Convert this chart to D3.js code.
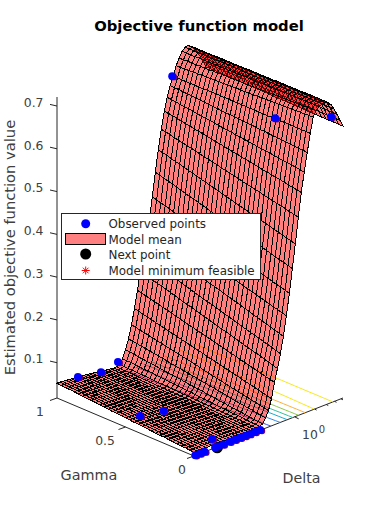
<!DOCTYPE html>
<html><head><meta charset="utf-8">
<script src="https://cdn.jsdelivr.net/npm/d3@7"></script>
<style>html,body{margin:0;padding:0;background:#fff}svg{display:block}text{font-family:"DejaVu Sans",sans-serif}</style>
</head><body><div id="c"></div>
<script>
const gammaGrid=[1,.969,.938,.906,.875,.844,.813,.781,.75,.719,.688,.656,.625,.594,.563,.531,.5,.469,.438,.406,.375,.344,.313,.281,.25,.219,.188,.156,.125,.094,.063,.031,0];
const deltaExp=[-1.52,-1.475,-1.43,-1.385,-1.34,-1.295,-1.25,-1.205,-1.16,-1.115,-1.07,-1.025,-.98,-.935,-.89,-.845,-.8,-.755,-.71,-.665,-.62,-.575,-.53,-.485,-.44,-.395,-.35,-.305,-.26,-.215,-.17,-.125,-.08,-.035,.01,.055,.1,.145,.19,.235,.28,.325,.37,.415,.46,.505,.55,.595,.64,.685,.73];
// model mean x 1000: one line per delta, values from gamma=1 to gamma=0
const modelMean=[
[52,51,50,50,49,48,47,46,46,45,44,43,42,41,41,40,39,38,37,37,36,35,34,33,32,32,31,30,29,28,28,27,26],
[52,51,50,50,49,48,47,46,46,45,44,43,42,41,41,40,39,38,37,37,36,35,34,33,32,32,31,30,29,28,28,27,26],
[51,50,49,49,48,47,46,46,45,44,43,42,42,41,40,39,38,38,37,36,35,35,34,33,32,31,31,30,29,28,27,27,26],
[51,50,49,49,48,47,46,46,45,44,43,42,42,41,40,39,38,38,37,36,35,35,34,33,32,31,31,30,29,28,27,27,26],
[50,49,49,48,47,46,46,45,44,43,43,42,41,40,40,39,38,37,37,36,35,34,34,33,32,31,31,30,29,28,28,27,26],
[49,48,48,47,46,45,45,44,43,43,42,41,40,40,39,38,38,37,36,35,35,34,33,32,32,31,30,30,29,28,27,27,26],
[49,48,48,47,46,45,45,44,43,43,42,41,40,40,39,38,38,37,36,35,35,34,33,32,32,31,30,30,29,28,27,27,26],
[48,47,47,46,45,45,44,43,43,42,41,40,40,39,38,38,37,36,36,35,34,34,33,32,32,31,30,29,29,28,27,27,26],
[47,46,46,45,44,44,43,42,42,41,40,40,39,38,38,37,37,36,35,35,34,33,33,32,31,31,30,29,29,28,27,27,26],
[46,45,45,44,44,43,42,42,41,40,40,39,39,38,37,37,36,35,35,34,34,33,32,32,31,30,30,29,29,28,27,27,26],
[45,44,44,43,43,42,41,41,40,40,39,38,38,37,37,36,35,35,34,34,33,33,32,31,31,30,30,29,28,28,27,27,26],
[44,43,43,42,42,41,41,40,40,39,38,38,37,37,36,36,35,34,34,33,33,32,32,31,31,30,29,29,28,28,27,27,26],
[43,42,42,41,41,40,40,39,39,38,38,37,37,36,36,35,35,34,33,33,32,32,31,31,30,30,29,29,28,28,27,27,26],
[42,42,41,41,40,40,39,39,38,38,37,37,36,36,35,35,34,34,33,33,32,32,31,31,30,30,29,29,28,28,27,27,26],
[41,41,40,40,39,39,38,38,38,37,37,36,36,35,35,34,34,34,33,33,32,32,31,31,30,30,29,29,28,28,27,27,26],
[40,40,39,39,38,38,37,37,36,36,36,35,35,34,34,33,33,33,32,32,31,31,31,30,30,29,29,28,28,27,27,26,26],
[39,39,38,38,37,37,37,36,36,35,35,35,34,34,33,33,33,32,32,31,31,31,30,30,29,29,29,28,28,27,27,26,26],
[38,38,37,37,37,36,36,36,35,35,34,34,34,33,33,33,32,32,31,31,31,30,30,30,29,29,28,28,28,27,27,26,26],
[37,37,36,36,36,35,35,35,34,34,34,33,33,33,32,32,32,31,31,31,30,30,30,29,29,29,28,28,28,27,27,26,26],
[36,36,35,35,35,34,34,34,34,33,33,33,32,32,32,31,31,31,30,30,30,29,29,29,28,28,28,28,27,27,27,26,26],
[36,36,35,35,35,34,34,34,34,33,33,33,32,32,32,31,31,31,30,30,30,29,29,29,28,28,28,28,27,27,27,26,26],
[39,39,38,38,37,37,37,36,36,35,35,35,34,34,33,33,33,32,32,31,31,31,30,30,29,29,29,28,28,27,27,26,26],
[50,49,49,48,47,46,46,45,44,44,43,42,41,41,40,39,39,38,37,36,36,35,34,33,33,32,31,31,30,29,28,28,27],
[68,67,66,64,63,62,61,60,58,57,56,55,54,53,51,50,49,48,47,45,44,43,42,41,39,38,37,36,35,34,32,31,30],
[91,89,88,86,85,83,82,80,79,77,75,74,72,71,69,68,66,64,63,61,60,58,57,55,53,52,50,49,47,46,44,43,41],
[121,119,117,115,113,111,109,107,105,103,101,99,97,95,93,91,89,86,84,82,80,78,76,74,72,70,68,66,64,62,60,58,56],
[156,154,151,149,147,144,142,140,137,135,133,130,128,126,123,121,119,116,114,112,109,107,105,102,100,98,95,93,91,88,86,84,81],
[196,194,191,189,186,184,181,179,176,174,171,169,166,164,161,159,156,154,151,149,146,144,141,139,136,134,131,129,126,124,121,119,116],
[238,235,232,229,226,224,221,218,215,212,209,206,204,201,198,195,192,189,186,183,181,178,175,172,169,166,163,161,158,155,152,149,146],
[271,268,265,262,259,256,254,251,248,245,242,239,236,233,230,227,225,222,219,216,213,210,207,204,201,198,196,193,190,187,184,181,178],
[311,308,305,302,299,296,293,290,287,284,281,278,275,272,269,266,264,261,258,255,252,249,246,243,240,237,234,231,228,225,222,219,216],
[351,348,345,343,340,337,334,331,328,326,323,320,317,314,312,309,306,303,300,298,295,292,289,286,283,281,278,275,272,269,267,264,261],
[401,398,395,393,390,387,384,381,378,376,373,370,367,364,362,359,356,353,350,348,345,342,339,336,333,331,328,325,322,319,317,314,311],
[456,453,450,448,445,442,439,436,433,431,428,425,422,419,417,414,411,408,405,403,400,397,394,391,388,386,383,380,377,374,372,369,366],
[506,503,501,498,495,493,490,487,485,482,479,477,474,471,469,466,463,461,458,455,453,450,447,445,442,440,437,434,432,429,426,424,421],
[551,549,547,544,542,540,538,536,534,531,529,527,525,523,520,518,516,514,512,509,507,505,503,501,498,496,494,492,490,488,485,483,481],
[591,589,588,586,584,582,581,579,577,576,574,572,570,569,567,565,563,562,560,558,557,555,553,551,550,548,546,545,543,541,539,538,536],
[620,619,618,616,615,614,613,611,610,609,608,607,605,604,603,602,600,599,598,597,596,594,593,592,591,590,588,587,586,585,584,582,581],
[645,644,644,643,642,642,641,640,640,639,638,638,637,636,636,635,635,634,633,633,632,631,631,630,629,629,628,627,627,626,625,625,624],
[664,664,664,664,664,664,664,664,665,665,665,665,665,665,665,665,665,665,665,665,665,665,665,665,665,666,666,666,666,666,666,666,666],
[686,686,687,687,688,688,689,689,690,690,691,691,692,692,693,693,693,694,694,695,695,696,696,697,697,698,698,699,699,700,700,701,701],
[701,701,702,702,702,703,703,703,704,704,705,705,705,706,706,706,707,707,708,708,708,709,709,710,710,710,711,711,712,712,713,713,714],
[714,714,714,714,715,715,715,715,715,716,716,716,716,716,717,717,717,717,717,718,718,718,718,718,719,719,719,719,720,720,720,721,721],
[721,721,721,721,721,721,721,721,722,722,722,722,722,722,722,722,722,722,722,722,723,723,723,723,723,723,723,723,724,724,724,724,724],
[722,722,722,722,722,722,722,722,722,722,722,723,723,723,723,723,723,723,723,723,723,723,724,724,724,724,724,724,724,724,724,724,724],
[718,718,718,718,718,718,719,719,719,719,719,719,719,720,720,720,720,720,720,720,721,721,721,721,721,721,721,722,722,722,722,722,722],
[710,710,710,710,710,710,711,711,711,711,711,711,711,712,712,712,712,712,712,712,713,713,713,713,713,713,713,714,714,714,714,714,714],
[700,700,700,700,700,700,700,700,700,700,700,700,700,700,700,700,701,701,701,701,701,701,701,701,701,701,701,701,701,701,701,701,701],
[686,686,686,686,686,686,686,686,686,686,686,686,686,686,686,686,686,686,686,686,686,686,686,686,686,686,686,686,686,686,686,686,686],
[671,671,671,671,671,671,671,671,671,671,671,670,670,670,670,670,670,670,670,670,670,670,669,669,669,669,669,669,669,669,669,669,669],
[656,656,656,656,656,656,656,656,655,655,655,655,655,655,655,655,654,654,654,654,654,654,654,654,653,653,653,653,653,653,653,653,653]
];
const contourLevels=[.076,.176,.276,.376,.486,.596,.706];
const contourColors=["#3f4fe0","#2f86ea","#18a8d0","#2fbf9a","#8cc84a","#fdb03c","#f8e81c"];
const obsGamma=[0,0,0,0,0,0,0,0,0,0,0,0,0,.05,.476,.44,.963,.945,.985,1,.234,.034];
const obsDeltaExp=[-1.5,-1.43,-1.36,-1.2,-1.16,-1.08,-.98,-.9,-.82,-.75,-.68,-.6,-.52,-1.144,-1.35,-1.07,-1.28,-.97,-.63,.22,.19,.62];
const obsValue=[.018,.018,.018,.018,.018,.018,.018,.018,.018,.018,.018,.018,.018,.028,.036,.036,.057,.052,.05,.665,.672,.677];
const nextPoint=[0,-1.17,.018];
const minPoint=[.04,-1.15,.02];
const zTicks=[.1,.2,.3,.4,.5,.6,.7];
const gammaTicks=[1,.5,0];
const deltaMinor=[2,3,4,5];
const legendItems=["Observed points","Model mean","Next point","Model minimum feasible"];

const W=377,H=512;
const svg=d3.select("#c").append("svg").attr("width",W).attr("height",H);
const gx=d3.scaleLinear().domain([0,1]).range([194,57]);
const gy=d3.scaleLinear().domain([0,1]).range([456,398]);
const deltaDomain=[Math.pow(10,-1.52),Math.pow(10,.73)];
const dx=d3.scaleLog().domain(deltaDomain).range([0,149]);
const dy=d3.scaleLog().domain(deltaDomain).range([0,-58]);
const zs=d3.scaleLinear().domain([.0175,.7211]).range([0,-301]);
const P=(g,d,z)=>[gx(g)+dx(d),gy(g)+dy(d)+zs(z)];
const floorZ=.0175, dMin=deltaDomain[0], dMax=deltaDomain[1];
const deltas=deltaExp.map(e=>Math.pow(10,e));
const ink="#404040";

// axes
const axes=svg.append("g").attr("stroke","#262626").attr("fill","none").attr("stroke-width",1);
const seg=(a,b)=>axes.append("line").attr("x1",a[0]).attr("y1",a[1]).attr("x2",b[0]).attr("y2",b[1]);
seg(P(1,dMin,floorZ),P(1,dMin,.7211));
seg(P(1,dMin,floorZ),P(0,dMin,floorZ));
seg(P(0,dMin,floorZ),P(0,dMax,floorZ));
zTicks.forEach(t=>{const p=P(1,dMin,t);seg(p,[p[0]-7,p[1]-1.6]);
  svg.append("text").attr("x",p[0]-13.5).attr("y",p[1]+.7).attr("text-anchor","end").attr("font-size",12.4).attr("fill",ink).text(d3.format(".1f")(t));});
gammaTicks.forEach(t=>{const p=P(t,dMin,floorZ);seg(p,[p[0]-7,p[1]+2.5]);});
const gl=[[40,415.5],[105,444.5],[182,473.5]];
gl.forEach((l,i)=>{svg.append("text").attr("x",l[0]).attr("y",l[1]).attr("text-anchor","middle").attr("font-size",12.4).attr("fill",ink).text(String(gammaTicks[i]));});
const p1=P(0,1,floorZ);seg(p1,[p1[0]+4,p1[1]+2]);
deltaMinor.forEach(t=>{const p=P(0,t,floorZ);seg(p,[p[0]+2,p[1]+1]);});
const dl=svg.append("text").attr("x",302).attr("y",439).attr("font-size",12.4).attr("fill",ink).text("10");
dl.append("tspan").attr("dy",-6).attr("dx",1).attr("font-size",10).text("0");
svg.append("text").attr("x",89).attr("y",479.5).attr("text-anchor","middle").attr("font-size",14.4).attr("fill",ink).text("Gamma");
svg.append("text").attr("x",301.5).attr("y",483).attr("text-anchor","middle").attr("font-size",14.2).attr("fill",ink).text("Delta");
svg.append("text").attr("transform","translate(14.5,247.5) rotate(-90)").attr("text-anchor","middle").attr("font-size",14.7).attr("fill",ink).text("Estimated objective function value");
svg.append("text").attr("x",199).attr("y",31).attr("text-anchor","middle").attr("font-size",14.8).attr("font-weight","bold").attr("fill","#000").text("Objective function model");

// floor contours, derived from the model table
const lineGen=d3.line();
const cg=svg.append("g").attr("fill","none").attr("stroke-width",1);
function crossing(i,lvl,descending){
  const val=k=>modelMean[k][i]/1000;
  if(!descending){for(let k=0;k<50;k++){if(val(k)<lvl&&val(k+1)>=lvl){const t=(lvl-val(k))/(val(k+1)-val(k));return deltaExp[k]+t*(deltaExp[k+1]-deltaExp[k]);}}}
  else{for(let k=50;k>0;k--){if(val(k)<lvl&&val(k-1)>=lvl){const t=(lvl-val(k))/(val(k-1)-val(k));return deltaExp[k]+t*(deltaExp[k-1]-deltaExp[k]);}}}
  return null;
}
contourLevels.forEach((lvl,c)=>{
  [false,true].forEach(desc=>{
    if(desc&&lvl<.7)return;
    const pts=[];gammaGrid.forEach((g,i)=>{const e=crossing(i,lvl,desc);if(e!==null)pts.push(P(g,Math.pow(10,e),floorZ));});
    cg.append("path").attr("d",lineGen(pts)).attr("stroke",contourColors[c]);
  });
});

// surface: far facets first
const quads=[];
for(let i=0;i<gammaGrid.length-1;i++){for(let k=deltas.length-2;k>=0;k--){
  const z=(a,b)=>modelMean[b][a]/1000;
  quads.push([P(gammaGrid[i],deltas[k],z(i,k)),P(gammaGrid[i],deltas[k+1],z(i,k+1)),P(gammaGrid[i+1],deltas[k+1],z(i+1,k+1)),P(gammaGrid[i+1],deltas[k],z(i+1,k))]);
}}
svg.append("g").attr("shape-rendering","crispEdges").selectAll("path").data(quads).join("path")
 .attr("d",q=>"M"+q.map(p=>p[0].toFixed(2)+","+p[1].toFixed(2)).join("L")+"Z")
 .attr("fill","#ff0000").attr("fill-opacity",.5).attr("stroke","#000").attr("stroke-width",1);

// markers
const obs=obsGamma.map((g,i)=>P(g,Math.pow(10,obsDeltaExp[i]),obsValue[i]));
svg.append("g").selectAll("circle").data(obs).join("circle").attr("cx",d=>d[0]+1.8).attr("cy",d=>d[1]+1).attr("r",3.2).attr("fill","#70007a");
const np=P(nextPoint[0],Math.pow(10,nextPoint[1]),nextPoint[2]);
svg.append("circle").attr("cx",np[0]).attr("cy",np[1]+1).attr("r",5.5).attr("fill","#000");
const mp=P(minPoint[0],Math.pow(10,minPoint[1]),minPoint[2]);
function drawStar(g,x,y,r){[[-r,0,r,0],[0,-r,0,r],[-r*.7,-r*.7,r*.7,r*.7],[-r*.7,r*.7,r*.7,-r*.7]].forEach(s=>g.append("line").attr("x1",x+s[0]).attr("y1",y+s[1]).attr("x2",x+s[2]).attr("y2",y+s[3]).attr("stroke","#f00").attr("stroke-width",1));}
drawStar(svg,mp[0],mp[1],3);
svg.append("g").selectAll("circle").data(obs).join("circle").attr("cx",d=>d[0]).attr("cy",d=>d[1]).attr("r",4).attr("fill","#0000ff");

// legend
const lg=svg.append("g");
lg.append("rect").attr("x",61.5).attr("y",213.5).attr("width",199).attr("height",66).attr("fill","#fff").attr("stroke","#262626").attr("stroke-width",1);
const ly=[224,239.5,255,271];
legendItems.forEach((t,i)=>lg.append("text").attr("x",108.5).attr("y",ly[i]+4).attr("font-size",11.9).attr("fill","#262626").text(t));
lg.append("circle").attr("cx",85.7).attr("cy",ly[0]-.3).attr("r",4.5).attr("fill","#0000ff");
lg.append("rect").attr("x",65.5).attr("y",233.5).attr("width",40).attr("height",11).attr("fill","#ff8080").attr("stroke","#000").attr("stroke-width",1);
lg.append("circle").attr("cx",85.7).attr("cy",ly[2]-1).attr("r",5.5).attr("fill","#000");
drawStar(lg,85.7,ly[3]-.5,4);
</script></body></html>
